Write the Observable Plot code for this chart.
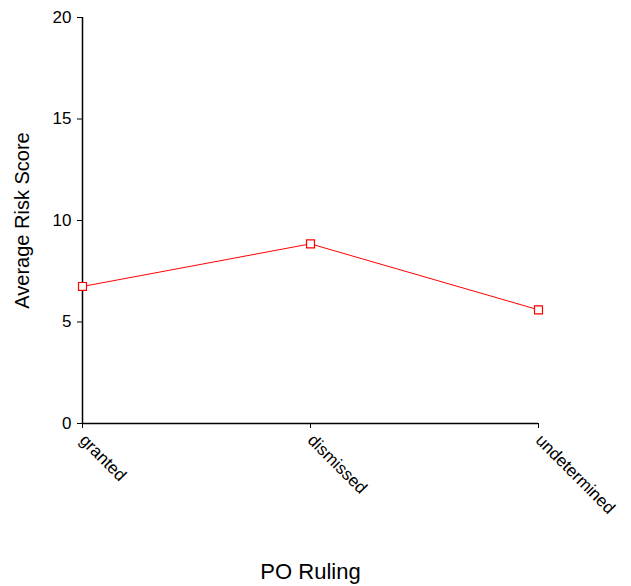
<!DOCTYPE html>
<html>
<head>
<meta charset="utf-8">
<script src="https://cdn.jsdelivr.net/npm/d3@7"></script>
<script src="https://cdn.jsdelivr.net/npm/@observablehq/plot@0.6"></script>
<style>
  html, body { margin: 0; padding: 0; background: #fff; }
  #chart svg { display: block; }
</style>
</head>
<body>
<div id="chart"></div>
<script>
const rulings = ["granted", "dismissed", "undetermined"];
const scores = [6.75, 8.85, 5.6];
const yTicks = [0, 5, 10, 15, 20];

const data = rulings.map((r, i) => ({ruling: r, score: scores[i]}));

const chart = Plot.plot({
  width: 631,
  height: 586,
  marginLeft: 82,
  marginRight: 93,
  marginTop: 17,
  marginBottom: 163,
  style: {fontFamily: "'Liberation Sans', Arial, sans-serif", background: "#fff", color: "#000"},
  x: {type: "point", domain: rulings, padding: 0},
  y: {domain: [0, 20]},
  marks: [
    Plot.axisY({ticks: yTicks, tickSize: 5, tickPadding: 6, fontSize: 17, label: null}),
    Plot.axisX({tickSize: 5, tickRotate: 45, tickPadding: 9, fontSize: 17, label: null}),
    Plot.ruleX([rulings[0]], {stroke: "#000", strokeWidth: 1.5}),
    Plot.ruleY([0], {stroke: "#000", strokeWidth: 1.5}),
    Plot.line(data, {x: "ruling", y: "score", stroke: "#ff0000", strokeWidth: 1}),
    Plot.dot(data, {x: "ruling", y: "score", symbol: "square", r: 4.5, stroke: "#ff0000", fill: "#fff", strokeWidth: 1.2}),
    Plot.text(["PO Ruling"], {frameAnchor: "bottom", dy: 155, fontSize: 22, fill: "#000"}),
    Plot.text(["Average Risk Score"], {frameAnchor: "left", dx: -60, rotate: -90, textAnchor: "middle", fontSize: 20, fill: "#000"})
  ]
});
document.getElementById("chart").appendChild(chart);
</script>
</body>
</html>
